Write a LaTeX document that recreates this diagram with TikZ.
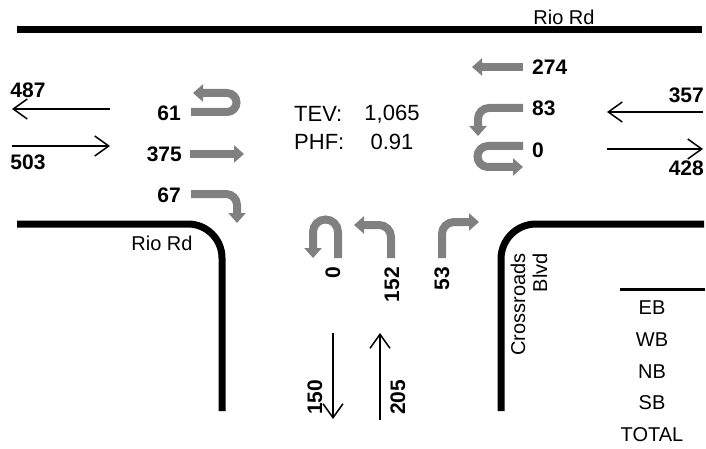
\documentclass[tikz,border=0pt]{standalone}
\usepackage{fontspec}
\setmainfont{Liberation Sans}
\usetikzlibrary{arrows.meta}

\begin{document}
\begin{tikzpicture}[x=1pt,y=-1pt,
    road/.style={line width=7pt},
    move/.style={line width=8pt, gray, -{Triangle[length=10pt,width=17pt]}},
    flow/.style={line width=1.5pt, -{Straight Barb[length=14pt,width=20pt,line width=1.5pt]}},
    num/.style={font=\fontsize{21}{23}\selectfont\bfseries, inner sep=0pt},
    lbl/.style={font=\fontsize{20}{22}\selectfont, inner sep=0pt}]
      \useasboundingbox (0,0) rectangle (706,449);
      % roads
      \draw[road] (17,30) -- (702,30);
      \draw[road, rounded corners=34pt] (17,224) -| (222,411);
      \draw[road, rounded corners=35pt] (704,224) -| (501,411);
      \draw node[lbl] (rio1) at (564,17) {Rio Rd};
      \draw node[lbl] (rio2) at (162,243) {Rio Rd};
      \draw node[lbl, rotate=90, anchor=east, align=right] (cross) at (529,253) {Crossroads\\Blvd};
      % eastbound
      \draw[flow] (110,109) -- (12,109);
      \draw[flow] (12,146) -- (110,146);
      \draw node[num] (eout) at (28,90) {487};
      \draw node[num] (ein) at (28,162) {503};
      \draw[move] (191,112) -- (227,112) arc[start angle=90, end angle=-90, radius=9.5] -- (193,93);
      \draw[move] (190,154) -- (244,154);
      \draw[move, rounded corners=11pt] (191,194) -| (237,223);
      \draw node[num, anchor=east] (ebu) at (181,113) {61};
      \draw node[num, anchor=east] (ebt) at (182,154) {375};
      \draw node[num, anchor=east] (ebr) at (181,195) {67};
      % westbound
      \draw[flow] (703,112) -- (607,112);
      \draw[flow] (607,149) -- (703,149);
      \draw node[num, anchor=east] (win) at (704,95) {357};
      \draw node[num, anchor=east] (wout) at (704,168) {428};
      \draw[move] (523,67) -- (472,67);
      \draw[move, rounded corners=11pt] (523,108) -| (478,136);
      \draw[move] (523,146) -- (488,146) arc[start angle=270, end angle=90, radius=10.5] -- (523,167);
      \draw node[num, anchor=west] (wbt) at (532,67) {274};
      \draw node[num, anchor=west] (wbl) at (532,108) {83};
      \draw node[num, anchor=west] (wbu) at (532,150) {0};
      % northbound
      \draw[move] (338,258) -- (338,232) arc[start angle=0, end angle=-180, radius=12.5] -- (313,258);
      \draw[move, rounded corners=12pt] (391,258) |- (354,225);
      \draw[move, rounded corners=12pt] (442,258) |- (479,222);
      \draw node[num, rotate=90, anchor=east] (nbu) at (333,267) {0};
      \draw node[num, rotate=90, anchor=east] (nbl) at (392,267) {152};
      \draw node[num, rotate=90, anchor=east] (nbr) at (442,267) {53};
      \draw[flow] (333,333) -- (333,419);
      \draw[flow] (380,420) -- (380,333);
      \draw node[num, rotate=90, anchor=west] (sout) at (315,415) {150};
      \draw node[num, rotate=90, anchor=west] (nin) at (398,415) {205};
      % totals
      \draw node[lbl, font=\fontsize{22}{24}\selectfont, anchor=west] (tev) at (294,114) {TEV:};
      \draw node[lbl, font=\fontsize{22}{24}\selectfont] (tevv) at (392,114) {1,065};
      \draw node[lbl, font=\fontsize{22}{24}\selectfont, anchor=west] (phf) at (294,142) {PHF:};
      \draw node[lbl, font=\fontsize{22}{24}\selectfont] (phfv) at (392,142) {0.91};
      \draw[line width=3pt] (620,289) -- (705,289);
      \draw node[lbl] (eb) at (652,308) {EB};
      \draw node[lbl] (wb) at (652,340) {WB};
      \draw node[lbl] (nb) at (652,372) {NB};
      \draw node[lbl] (sb) at (652,403) {SB};
      \draw node[lbl] (tot) at (652,435) {TOTAL};
\end{tikzpicture}
\end{document}
